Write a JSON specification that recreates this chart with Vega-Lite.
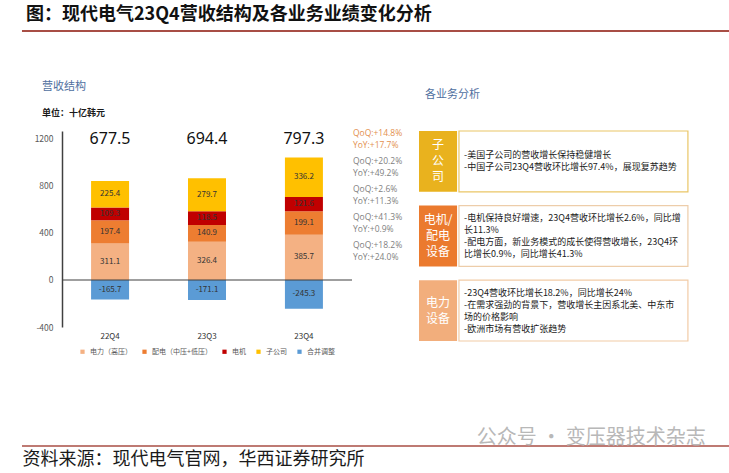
{
  "$schema": "https://vega.github.io/schema/vega-lite/v6.json",
  "padding": {"left": 0, "top": 6, "right": 0, "bottom": 0},
  "spacing": 0,
  "config": {
    "view": {"stroke": null},
    "font": "Noto Sans CJK SC",
    "title": {"font": "Noto Sans CJK SC", "subtitleFont": "Noto Sans CJK SC"},
    "axis": {"labelFont": "Noto Sans CJK SC", "titleFont": "Noto Sans CJK SC"},
    "legend": {"labelFont": "Noto Sans CJK SC", "layout": {"bottom": {"anchor": "middle"}}}
  },
  "resolve": {"scale": {"x": "independent", "y": "independent", "color": "independent", "stroke": "independent"}, "legend": {"color": "independent"}},
  "vconcat": [
    {
      "width": 667,
      "height": 50,
      "title": {"text": "图：现代电气23Q4营收结构及各业务业绩变化分析", "anchor": "start", "frame": "group", "dx": -36, "fontSize": 18, "fontWeight": "bold", "color": "#111111", "offset": 6},
      "data": {"values": [{"item": "标题线"}]},
      "mark": {"type": "rule", "color": "#A84E45", "strokeWidth": 2},
      "encoding": {
        "x": {"datum": -0.06, "type": "quantitative", "scale": {"domain": [0, 1], "nice": false}, "axis": null},
        "x2": {"datum": 1},
        "y": {"datum": 1, "type": "quantitative", "scale": {"domain": [0, 1], "nice": false}, "axis": null}
      }
    },
    {
      "spacing": 16,
      "resolve": {"scale": {"x": "independent", "y": "independent", "color": "independent", "stroke": "independent"}, "legend": {"color": "independent"}},
      "hconcat": [
        {
          "width": 290,
          "height": 196,
          "title": {"text": "营收结构", "subtitle": "单位：十亿韩元", "anchor": "start", "frame": "group", "dx": -20, "fontSize": 11, "fontWeight": "normal", "color": "#4F6FA0", "subtitleFontSize": 9, "subtitleFontWeight": "bold", "subtitleColor": "#1a1a1a", "subtitlePadding": 17, "offset": 11},
          "data": {"values": [
            {"quarter": "22Q4", "segment": "电力（高压）", "order": 1, "value": 311.1},
            {"quarter": "22Q4", "segment": "配电（中压+低压）", "order": 2, "value": 197.4},
            {"quarter": "22Q4", "segment": "电机", "order": 3, "value": 109.3},
            {"quarter": "22Q4", "segment": "子公司", "order": 4, "value": 225.4},
            {"quarter": "22Q4", "segment": "合并调整", "order": 5, "value": -165.7},
            {"quarter": "23Q3", "segment": "电力（高压）", "order": 1, "value": 326.4},
            {"quarter": "23Q3", "segment": "配电（中压+低压）", "order": 2, "value": 140.9},
            {"quarter": "23Q3", "segment": "电机", "order": 3, "value": 118.5},
            {"quarter": "23Q3", "segment": "子公司", "order": 4, "value": 279.7},
            {"quarter": "23Q3", "segment": "合并调整", "order": 5, "value": -171.1},
            {"quarter": "23Q4", "segment": "电力（高压）", "order": 1, "value": 385.7},
            {"quarter": "23Q4", "segment": "配电（中压+低压）", "order": 2, "value": 199.1},
            {"quarter": "23Q4", "segment": "电机", "order": 3, "value": 121.6},
            {"quarter": "23Q4", "segment": "子公司", "order": 4, "value": 336.2},
            {"quarter": "23Q4", "segment": "合并调整", "order": 5, "value": -245.3}
          ]},
          "resolve": {"scale": {"y": "independent"}},
          "layer": [
            {
              "transform": [
                {"stack": "value", "groupby": ["quarter"], "sort": [{"field": "order", "order": "ascending"}], "as": ["v0", "v1"], "offset": "zero"}
              ],
              "layer": [
                {
                  "mark": {"type": "bar"},
                  "encoding": {
                    "x": {"field": "quarter", "type": "nominal", "sort": ["22Q4", "23Q3", "23Q4"], "scale": {"paddingInner": 0.608, "paddingOuter": 0.3},
                          "axis": {"title": null, "domain": false, "ticks": false, "labelAngle": 0, "labelFontSize": 8, "labelColor": "#333333", "labelPadding": 5}},
                    "y": {"field": "v0", "type": "quantitative", "scale": {"domain": [-400, 1268], "nice": false},
                          "axis": {"values": [-400, -200, 0, 200, 400, 600, 800, 1000, 1200], "labelExpr": "'' + datum.value", "ticks": false, "grid": false, "title": null, "domainColor": "#404040", "domainWidth": 1.5, "labelColor": "#595959", "labelFontSize": 8.5, "labelPadding": 9, "minExtent": 62}},
                    "y2": {"field": "v1"},
                    "color": {"field": "segment", "type": "nominal",
                              "scale": {"domain": ["电力（高压）", "配电（中压+低压）", "电机", "子公司", "合并调整"], "range": ["#F4B183", "#ED7D31", "#C00000", "#FFC000", "#5B9BD5"]},
                              "legend": {"orient": "bottom", "direction": "horizontal", "title": null, "symbolType": "square", "symbolSize": 18, "symbolStrokeWidth": 0, "labelFontSize": 7, "labelColor": "#595959", "columnPadding": 9, "offset": 8}}
                  }
                },
                {
                  "transform": [
                    {"fold": ["v0", "v1"], "as": ["end", "pos"]},
                    {"aggregate": [{"op": "mean", "field": "pos", "as": "mid"}], "groupby": ["quarter", "segment", "value"]}
                  ],
                  "mark": {"type": "text", "fontSize": 8, "color": "#333333", "baseline": "middle"},
                  "encoding": {
                    "x": {"field": "quarter", "type": "nominal", "sort": ["22Q4", "23Q3", "23Q4"]},
                    "y": {"field": "mid", "type": "quantitative"},
                    "text": {"field": "value", "type": "nominal"}
                  }
                },
                {
                  "data": {"values": [{"item": "零线"}]},
                  "mark": {"type": "rule", "color": "#404040", "strokeWidth": 1.2},
                  "encoding": {"y": {"datum": 0, "type": "quantitative"}}
                },
                {
                  "data": {"values": [
                    {"quarter": "22Q4", "total": "677.5"},
                    {"quarter": "23Q3", "total": "694.4"},
                    {"quarter": "23Q4", "total": "797.3"}
                  ]},
                  "mark": {"type": "text", "fontSize": 16, "color": "#111111", "baseline": "middle", "font": "Noto Sans"},
                  "encoding": {
                    "x": {"field": "quarter", "type": "nominal", "sort": ["22Q4", "23Q3", "23Q4"]},
                    "y": {"datum": 1200, "type": "quantitative"},
                    "text": {"field": "total", "type": "nominal"}
                  }
                }
              ]
            },
            {
              "data": {"values": [
                {"quarter": "23Q4", "item": "合计", "kind": "合计", "chg": "QoQ:+14.8%\nYoY:+17.7%"},
                {"quarter": "23Q4", "item": "子公司", "kind": "分项", "chg": "QoQ:+20.2%\nYoY:+49.2%"},
                {"quarter": "23Q4", "item": "电机", "kind": "分项", "chg": "QoQ:+2.6%\nYoY:+11.3%"},
                {"quarter": "23Q4", "item": "配电（中压+低压）", "kind": "分项", "chg": "QoQ:+41.3%\nYoY:+0.9%"},
                {"quarter": "23Q4", "item": "电力（高压）", "kind": "分项", "chg": "QoQ:+18.2%\nYoY:+24.0%"}
              ]},
              "mark": {"type": "text", "align": "left", "baseline": "middle", "dx": 49, "dy": -6, "fontSize": 8.5, "lineHeight": 12, "lineBreak": "\n", "font": "Open Sans"},
              "encoding": {
                "x": {"field": "quarter", "type": "nominal", "sort": ["22Q4", "23Q3", "23Q4"]},
                "y": {"field": "item", "type": "nominal", "scale": {"type": "point", "domain": ["合计", "子公司", "电机", "配电（中压+低压）", "电力（高压）", "合并调整"], "padding": 1, "align": 0.143}, "axis": null},
                "fill": {"field": "kind", "type": "nominal", "scale": {"domain": ["合计", "分项"], "range": ["#E3904F", "#7F7F7F"]}, "legend": null},
                "text": {"field": "chg", "type": "nominal"}
              }
            }
          ]
        },
        {
          "width": 270,
          "height": 210,
          "title": {"text": " ", "subtitle": "各业务分析", "anchor": "start", "frame": "group", "dx": 6, "fontSize": 11, "subtitleFontSize": 11, "subtitleColor": "#4F6FA0", "subtitlePadding": -12, "offset": 28},
          "data": {"values": [
            {"biz": "子公司", "label": "子\n公\n司", "body": "-美国子公司的营收增长保持稳健增长\n-中国子公司23Q4营收环比增长97.4%，展现复苏趋势"},
            {"biz": "电机/配电设备", "label": "电机/\n配电\n设备", "body": "-电机保持良好增速，23Q4营收环比增长2.6%，同比增\n长11.3%\n-配电方面，新业务模式的成长使得营收增长，23Q4环\n比增长0.9%，同比增长41.3%"},
            {"biz": "电力设备", "label": "电力\n设备", "body": "-23Q4营收环比增长18.2%，同比增长24%\n-在需求强劲的背景下，营收增长主因系北美、中东市\n场的价格影响\n-欧洲市场有营收扩张趋势"}
          ]},
          "encoding": {
            "y": {"field": "biz", "type": "nominal", "sort": null, "scale": {"paddingInner": 0.185, "paddingOuter": 0}, "axis": null}
          },
          "layer": [
            {
              "mark": {"type": "rect"},
              "encoding": {
                "x": {"datum": 0, "type": "quantitative", "scale": {"domain": [0, 1], "nice": false}, "axis": null},
                "x2": {"datum": 0.141},
                "color": {"field": "biz", "type": "nominal", "scale": {"domain": ["子公司", "电机/配电设备", "电力设备"], "range": ["#E9B21E", "#EB7A2E", "#F2AE7C"]}, "legend": null}
              }
            },
            {
              "mark": {"type": "rect", "fill": "#FFFFFF", "strokeWidth": 1.2},
              "encoding": {
                "x": {"datum": 0.148, "type": "quantitative"},
                "x2": {"datum": 0.996},
                "stroke": {"field": "biz", "type": "nominal", "scale": {"domain": ["子公司", "电机/配电设备", "电力设备"], "range": ["#EAC667", "#EDCDAA", "#F2CBA6"]}, "legend": null}
              }
            },
            {
              "transform": [{"filter": "datum.biz !== '电力设备'"}],
              "mark": {"type": "text", "align": "center", "baseline": "middle", "lineBreak": "\n", "fontSize": 12, "lineHeight": 16, "dy": -16, "color": "#FFFFFF"},
              "encoding": {
                "x": {"datum": 0.0705, "type": "quantitative"},
                "text": {"field": "label", "type": "nominal"}
              }
            },
            {
              "transform": [{"filter": "datum.biz === '电力设备'"}],
              "mark": {"type": "text", "align": "center", "baseline": "middle", "lineBreak": "\n", "fontSize": 12, "lineHeight": 16, "dy": -8, "color": "#FFFFFF"},
              "encoding": {
                "x": {"datum": 0.0705, "type": "quantitative"},
                "text": {"field": "label", "type": "nominal"}
              }
            },
            {
              "transform": [{"filter": "datum.biz === '子公司'"}],
              "mark": {"type": "text", "align": "left", "baseline": "middle", "lineBreak": "\n", "fontSize": 9, "lineHeight": 12, "dy": -6, "color": "#1a1a1a"},
              "encoding": {
                "x": {"datum": 0.167, "type": "quantitative"},
                "text": {"field": "body", "type": "nominal"}
              }
            },
            {
              "transform": [{"filter": "datum.biz !== '子公司'"}],
              "mark": {"type": "text", "align": "left", "baseline": "middle", "lineBreak": "\n", "fontSize": 9, "lineHeight": 12, "dy": -18, "color": "#1a1a1a"},
              "encoding": {
                "x": {"datum": 0.167, "type": "quantitative"},
                "text": {"field": "body", "type": "nominal"}
              }
            }
          ]
        }
      ]
    },
    {
      "width": 667,
      "height": 91,
      "data": {"values": [{"item": "来源"}]},
      "layer": [
        {
          "mark": {"type": "rule", "color": "#A84E45", "strokeWidth": 1.5},
          "encoding": {
            "x": {"datum": -0.06, "type": "quantitative", "scale": {"domain": [0, 1], "nice": false},
                  "axis": {"title": "资料来源：现代电气官网，华西证券研究所", "labels": false, "ticks": false, "domain": false, "grid": false, "titleFontSize": 18, "titleFontWeight": "normal", "titleColor": "#1a1a1a", "titleAnchor": "start", "titleAlign": "left", "titleX": -40, "titlePadding": 4}},
            "x2": {"datum": 1},
            "y": {"datum": 0, "type": "quantitative", "scale": {"domain": [0, 1], "nice": false}, "axis": null}
          }
        },
        {
          "mark": {"type": "text", "align": "right", "baseline": "bottom", "fontSize": 20, "color": "#B8B8B8", "dy": 2},
          "encoding": {
            "x": {"datum": 0.965, "type": "quantitative"},
            "y": {"datum": 0, "type": "quantitative"},
            "text": {"value": "公众号 · 变压器技术杂志"}
          }
        }
      ]
    }
  ]
}
